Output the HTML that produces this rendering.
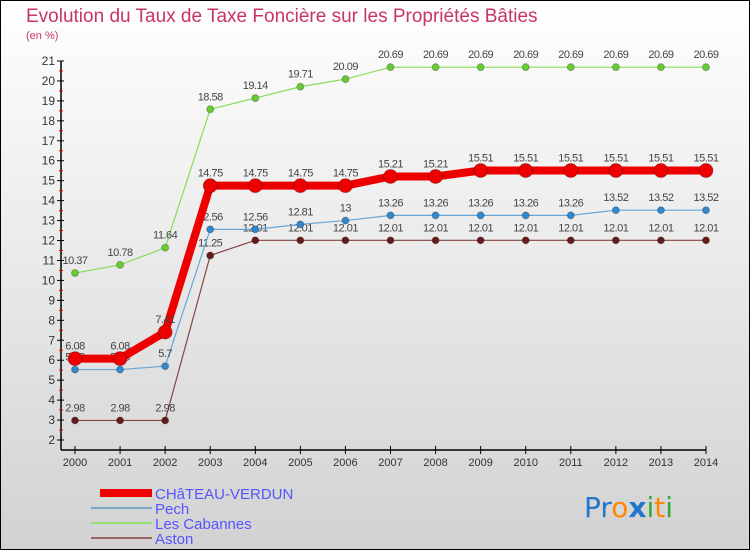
<!DOCTYPE html>
<html><head><meta charset="utf-8"><style>
html,body{margin:0;padding:0}
body{width:750px;height:550px;overflow:hidden;font-family:"Liberation Sans",sans-serif}
</style></head><body>
<svg id="chart" width="750" height="550" xmlns="http://www.w3.org/2000/svg">
<defs><linearGradient id="bg" x1="0" y1="0" x2="0" y2="1"><stop offset="0" stop-color="#ffffff"/><stop offset="1" stop-color="#d2d2d2"/></linearGradient></defs>
<rect x="0.5" y="0.5" width="749" height="549" fill="url(#bg)" stroke="#000"/>
<text x="26" y="22" font-size="19" fill="#c8336a">Evolution du Taux de Taxe Foncière sur les Propriétés Bâties</text>
<text x="26" y="39" font-size="11" fill="#c8336a">(en %)</text>
<g id="axes"></g><g id="series"></g>
<g font-size="15" fill="#5555ff">
<rect x="100" y="489" width="52" height="8" fill="#ee0000"/><text x="155" y="499">CHâTEAU-VERDUN</text>
<line x1="91" y1="508" x2="152" y2="508" stroke="#7aa6c8" stroke-width="2"/><text x="155" y="514">Pech</text>
<line x1="91" y1="523" x2="152" y2="523" stroke="#99dd77" stroke-width="2"/><text x="155" y="529">Les Cabannes</text>
<line x1="91" y1="538" x2="152" y2="538" stroke="#996666" stroke-width="2"/><text x="155" y="544">Aston</text>
</g>
<text x="584" y="517" font-size="28" font-family="'DejaVu Sans',sans-serif"><tspan fill="#2277cc">Pr</tspan><tspan fill="#ff8800">o</tspan><tspan fill="#2277cc" font-weight="bold">x</tspan><tspan fill="#33aa33">i</tspan><tspan fill="#ff8800">t</tspan><tspan fill="#33aa33">i</tspan></text>
</svg>
<script>
const years=["2000","2001","2002","2003","2004","2005","2006","2007","2008","2009","2010","2011","2012","2013","2014"];
const yTicks=[2,3,4,5,6,7,8,9,10,11,12,13,14,15,16,17,18,19,20,21];
const chateau=[6.08,6.08,7.41,14.75,14.75,14.75,14.75,15.21,15.21,15.51,15.51,15.51,15.51,15.51,15.51];
const pech=[5.53,5.53,5.7,12.56,12.56,12.81,13,13.26,13.26,13.26,13.26,13.26,13.52,13.52,13.52];
const cabannes=[10.37,10.78,11.64,18.58,19.14,19.71,20.09,20.69,20.69,20.69,20.69,20.69,20.69,20.69,20.69];
const aston=[2.98,2.98,2.98,11.25,12.01,12.01,12.01,12.01,12.01,12.01,12.01,12.01,12.01,12.01,12.01];
const NS="http://www.w3.org/2000/svg";
const X=i=>75+i*(631/14), Y=v=>440-(v-2)*(379/19);
function mk(p,t,a){const e=document.createElementNS(NS,t);for(const k in a)e.setAttribute(k,a[k]);p.appendChild(e);return e;}
const ax=document.getElementById('axes');
mk(ax,'line',{x1:61,y1:61,x2:61,y2:450,stroke:'#000','stroke-width':1.5});
mk(ax,'line',{x1:61,y1:450,x2:706,y2:450,stroke:'#000','stroke-width':1.5});
yTicks.forEach(v=>{
  mk(ax,'line',{x1:57,y1:Y(v),x2:64,y2:Y(v),stroke:'#000'});
  if(v<21)mk(ax,'line',{x1:59,y1:Y(v+0.5),x2:63,y2:Y(v+0.5),stroke:'#e00'});
  const t=mk(ax,'text',{x:55,y:Y(v)+4,'text-anchor':'end','font-size':12,fill:'#333'});t.textContent=v;
  
  
});
years.forEach((y,i)=>{
  mk(ax,'line',{x1:X(i),y1:446,x2:X(i),y2:454,stroke:'#000'});
  const t=mk(ax,'text',{x:X(i),y:466,'text-anchor':'middle','font-size':11,fill:'#333'});t.textContent=y;
  
  
});
const sg=document.getElementById('series');
function series(name,d,col,dot,w,r){
  const g=mk(sg,'g',{});
  
  
  mk(g,'polyline',{points:d.map((v,i)=>X(i)+','+Y(v)).join(' '),fill:'none',stroke:col,'stroke-width':w,'stroke-linejoin':'round'});
  d.forEach((v,i)=>{
    const c=mk(g,'circle',{cx:X(i),cy:Y(v),r:r,fill:dot,stroke:'rgba(0,0,0,0.25)'});
    
    
    const t=mk(g,'text',{x:X(i),y:Y(v)-9,'text-anchor':'middle','font-size':11,fill:'#444','letter-spacing':'-0.5'});
    t.textContent=String(v);
    
    
  });
}
series('series-aston',aston,'#884444','#661a1a',1.2,3.5);
series('series-pech',pech,'#66a6d8','#3388cc',1.2,3.5);
series('series-les-cabannes',cabannes,'#88dd55','#66cc33',1.2,3.5);
series('series-chateau-verdun',chateau,'#ee0000','#ee0000',8,7);
</script>
</body></html>
